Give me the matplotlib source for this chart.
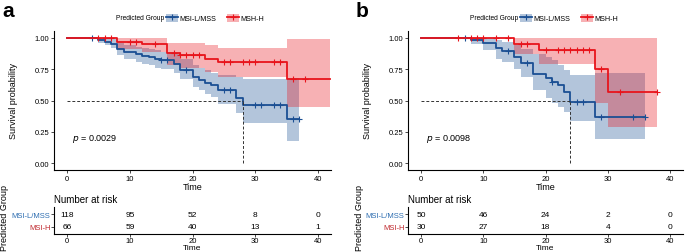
import matplotlib
matplotlib.use('Agg')
import matplotlib.pyplot as plt
import numpy as np
from matplotlib.patches import Patch
from matplotlib.lines import Line2D

plt.rcParams['font.family'] = ['Liberation Sans', 'DejaVu Sans']

# ---- panel a: KM steps (time, survival, CI lower, CI upper) ----
a_mss_t = [0, 5, 6, 7, 8, 9, 11, 12, 13, 14, 15, 17, 18, 20, 21, 22, 23, 24, 27, 28, 35, 37]
a_mss_s = [1.0, 0.985, 0.97, 0.955, 0.91, 0.885, 0.87, 0.855, 0.845, 0.83, 0.82, 0.79, 0.745, 0.69, 0.665, 0.64, 0.62, 0.58, 0.52, 0.465, 0.35, 0.35]
a_mss_lo = [1.0, 0.96, 0.94, 0.92, 0.86, 0.83, 0.81, 0.79, 0.78, 0.76, 0.75, 0.72, 0.67, 0.61, 0.58, 0.55, 0.53, 0.47, 0.40, 0.32, 0.18, 0.18]
a_mss_hi = [1.0, 1.0, 1.0, 0.995, 0.96, 0.94, 0.93, 0.92, 0.91, 0.90, 0.89, 0.87, 0.83, 0.78, 0.76, 0.74, 0.72, 0.70, 0.69, 0.67, 0.68, 0.68]
a_mss_cens = [4, 15, 16, 19, 25, 26, 30, 31, 33, 34, 36, 37]

a_msh_t = [0, 8, 12, 16, 18, 22, 24, 35, 42]
a_msh_s = [1.0, 0.97, 0.955, 0.88, 0.86, 0.83, 0.805, 0.67, 0.67]
a_msh_lo = [1.0, 0.91, 0.89, 0.78, 0.76, 0.73, 0.69, 0.45, 0.45]
a_msh_hi = [1.0, 1.0, 1.0, 0.96, 0.96, 0.94, 0.92, 0.99, 0.99]
a_msh_cens = [5, 6, 7, 10, 11, 14, 17, 18, 19, 20, 21, 25, 26, 28, 29, 30, 33, 34, 36, 38]

# ---- panel b ----
b_mss_t = [0, 8, 10, 12, 13, 15, 16, 18, 20, 21, 22, 23, 24, 28, 36]
b_mss_s = [1.0, 0.985, 0.96, 0.92, 0.895, 0.85, 0.80, 0.71, 0.68, 0.65, 0.62, 0.57, 0.49, 0.37, 0.37]
b_mss_lo = [1.0, 0.95, 0.90, 0.835, 0.81, 0.755, 0.69, 0.58, 0.52, 0.48, 0.45, 0.41, 0.34, 0.19, 0.19]
b_mss_hi = [1.0, 1.0, 1.0, 0.98, 0.97, 0.94, 0.91, 0.87, 0.85, 0.82, 0.78, 0.74, 0.70, 0.72, 0.72]
b_mss_cens = [7, 14, 17, 21, 25, 26, 29, 34, 36]

b_msh_t = [0, 15, 19, 28, 30, 38]
b_msh_s = [1.0, 0.955, 0.905, 0.755, 0.57, 0.57]
b_msh_lo = [1.0, 0.87, 0.79, 0.48, 0.29, 0.29]
b_msh_hi = [1.0, 1.0, 1.0, 1.0, 1.0, 1.0]
b_msh_cens = [6, 8, 9, 10, 12, 14, 16, 17, 20, 22, 23, 24, 25, 26, 27, 29, 32, 38]

# number at risk
risk_times = [0, 10, 20, 30, 40]
a_risk_mss = [118, 95, 52, 8, 0]
a_risk_msh = [66, 59, 40, 13, 1]
b_risk_mss = [50, 46, 24, 2, 0]
b_risk_msh = [30, 27, 18, 4, 0]

p_values = ['0.0029', '0.0098']
group_names = ['MSI-L/MSS', 'MSH-H']
risk_names = ['MSI-L/MSS', 'MSI-H']

blue = '#1B4F93'
red = '#E8141C'
row_cols = ['#2B6CB0', '#C0282D']

W, H = 685, 253
fig = plt.figure(figsize=(W / 100, H / 100), dpi=100)


def fr(x0, y0, x1, y1):
    return [x0 / W, 1 - y1 / H, (x1 - x0) / W, (y1 - y0) / H]


def km(ax, t, s, lo, hi, cens, col):
    ax.fill_between(t, lo, hi, step='post', color=col, alpha=0.33, lw=0)
    ax.step(t, s, where='post', color=col, lw=1.3)
    idx = np.searchsorted(t, cens, side='right') - 1
    ax.plot(cens, np.array(s)[idx], ls='none', marker='+', ms=4, mew=0.8, color=col)


panels = [
    (54, 331, 'a', a_mss_t, a_mss_s, a_mss_lo, a_mss_hi, a_mss_cens,
     a_msh_t, a_msh_s, a_msh_lo, a_msh_hi, a_msh_cens, a_risk_mss, a_risk_msh),
    (408, 683, 'b', b_mss_t, b_mss_s, b_mss_lo, b_mss_hi, b_mss_cens,
     b_msh_t, b_msh_s, b_msh_lo, b_msh_hi, b_msh_cens, b_risk_mss, b_risk_msh),
]

for k, (x0, x1, lab, t1, s1, l1, h1, c1, t2, s2, l2, h2, c2, r1, r2) in enumerate(panels):
    ax = fig.add_axes(fr(x0, 32, x1, 171))
    km(ax, t1, s1, l1, h1, c1, blue)
    km(ax, t2, s2, l2, h2, c2, red)
    # median survival of first group
    med = t1[np.argmax(np.array(s1) <= 0.5)]
    ax.plot([0, med], [0.5, 0.5], ls=(0, (3, 2)), color='#333333', lw=0.7)
    ax.plot([med, med], [0, 0.5], ls=(0, (3, 2)), color='#333333', lw=0.7)
    ax.text(0.8, 0.2, r'$p$ = ' + p_values[k], fontsize=6.5, va='center')
    ax.set_xlim(-2.1, 42.1)
    ax.set_ylim(-0.055, 1.055)
    ax.set_xticks([0, 10, 20, 30, 40])
    ax.set_yticks([0, 0.25, 0.5, 0.75, 1.0])
    ax.set_yticklabels(['0.00', '0.25', '0.50', '0.75', '1.00'])
    ax.tick_params(labelsize=5.5, length=2, width=0.5, pad=1.5)
    for sp in ['top', 'right']:
        ax.spines[sp].set_visible(False)
    for sp in ['left', 'bottom']:
        ax.spines[sp].set_linewidth(0.8)
    ax.set_xlabel('Time', fontsize=6.5, labelpad=0)
    ax.set_ylabel('Survival probability', fontsize=6.5, labelpad=12)

    # legend
    handles = [(Patch(facecolor=blue, alpha=0.33, edgecolor='none'),
                Line2D([], [], color=blue, lw=1.3, marker='+', ms=4, mew=0.8)),
               (Patch(facecolor=red, alpha=0.33, edgecolor='none'),
                Line2D([], [], color=red, lw=1.3, marker='+', ms=4, mew=0.8))]
    fig.text((x0 + 62) / W, 1 - 19 / H, 'Predicted Group', fontsize=4.8, va='center')
    fig.legend(handles, group_names, loc='center left', ncol=2, frameon=False,
               bbox_to_anchor=((x0 + 112) / W, 1 - 19 / H), fontsize=5.2,
               handlelength=1.7, handleheight=1.3, handletextpad=0.2,
               columnspacing=1.4, borderaxespad=0, borderpad=0)

    fig.text((x0 - 52) / W, 1 - 12 / H, lab, fontsize=15, fontweight='bold', va='center')

    # risk table
    rt = fig.add_axes(fr(x0, 208, x1, 235))
    for i, v in enumerate(r1):
        rt.text(risk_times[i], 1, str(v), ha='center', va='center', fontsize=6)
    for i, v in enumerate(r2):
        rt.text(risk_times[i], 0, str(v), ha='center', va='center', fontsize=6)
    rt.set_xlim(-2.1, 42.1)
    rt.set_ylim(-0.6, 1.6)
    rt.set_xticks([0, 10, 20, 30, 40])
    rt.set_yticks([1, 0])
    rt.set_yticklabels(risk_names)
    for tl, c in zip(rt.get_yticklabels(), row_cols):
        tl.set_color(c)
    rt.tick_params(labelsize=5.5, length=2, width=0.5, pad=0.5)
    for sp in ['top', 'right']:
        rt.spines[sp].set_visible(False)
    for sp in ['left', 'bottom']:
        rt.spines[sp].set_linewidth(0.8)
    rt.set_xlabel('Time', fontsize=6)
    rt.xaxis.set_label_coords(0.5, (235 - 249) / 27, transform=rt.transAxes)
    rt.xaxis.label.set_va('center')
    rt.text(0, 1.1, 'Number at risk', transform=rt.transAxes, fontsize=7, va='bottom')
    fig.text((x0 - 49) / W, 1 - 218 / H, 'Predicted Group', rotation=90,
             fontsize=6.5, va='center', ha='center')

fig.savefig('out.png', dpi=100)
